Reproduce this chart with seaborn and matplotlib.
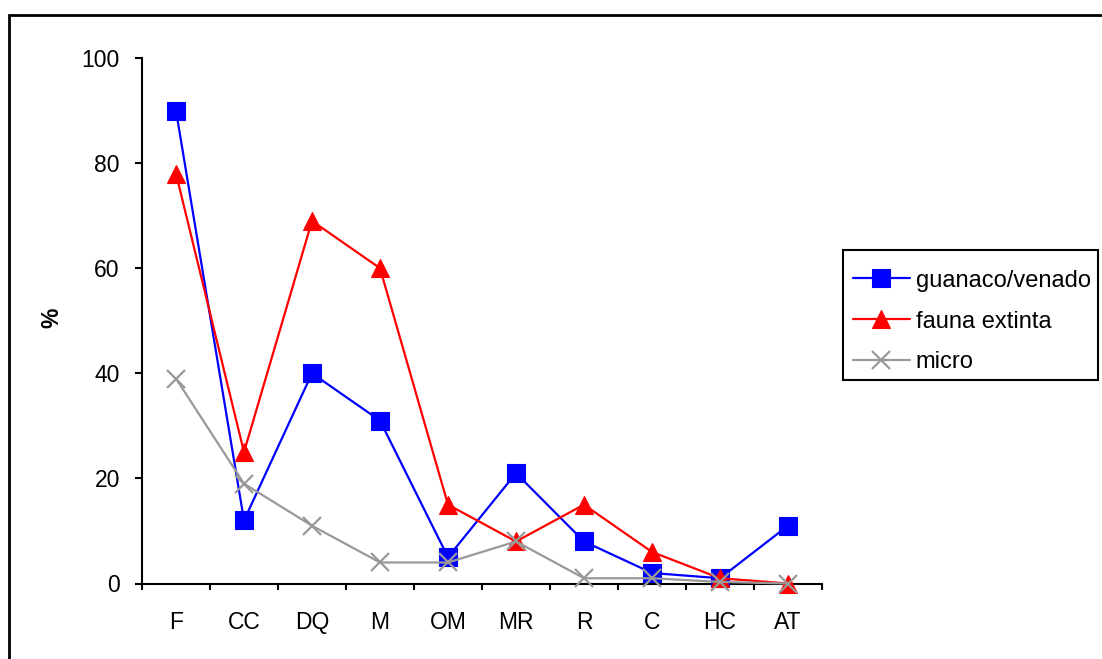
import matplotlib
matplotlib.use("Agg")
import matplotlib.pyplot as plt
from matplotlib.patches import Rectangle
from matplotlib.ticker import FixedLocator
import seaborn as sns
import pandas as pd

# Site categories along the x axis
categories = ["F", "CC", "DQ", "M", "OM", "MR", "R", "C", "HC", "AT"]

# Percentages per faunal group
guanaco_venado = [90, 12, 40, 31, 5, 21, 8, 2, 1, 11]
fauna_extinta = [78, 25, 69, 60, 15, 8, 15, 6, 1, 0]
micro = [39, 19, 11, 4, 4, 8, 1, 1, 0.3, 0]

y_ticks = [0, 20, 40, 60, 80, 100]

sns.set_theme(style="white")
plt.rcParams["font.family"] = ["Liberation Sans", "DejaVu Sans"]

FS = 16.5
LEG_FS = 17

W, H = 1102, 659
fig = plt.figure(figsize=(W / 100, H / 100), dpi=100)
ax = fig.add_axes([142 / W, 1 - 583.5 / H, 680 / W, 525.5 / H])

series = [
    ("guanaco/venado", guanaco_venado, "#0000FF", "s", 12.5),
    ("fauna extinta", fauna_extinta, "#FF0000", "^", 13),
    ("micro", micro, "#999999", "x", 13),
]

for z, (name, vals, col, mk, ms) in enumerate(series):
    df = pd.DataFrame({"cat": categories, "val": vals})
    sns.lineplot(
        data=df, x="cat", y="val", ax=ax, color=col, linewidth=1.6,
        marker=mk, markersize=ms, markeredgecolor=col, markerfacecolor=col,
        markeredgewidth=1.6 if mk == "x" else 0.8,
        label=name, clip_on=False, zorder=3 + z, sort=False,
    )

ax.set_xlim(-0.5, len(categories) - 0.5)
ax.set_ylim(0, 100)
ax.set_yticks(y_ticks)
ax.set_yticklabels([str(v) for v in y_ticks])
ax.set_xticks(range(len(categories)))
ax.set_xticklabels(categories)
ax.xaxis.set_minor_locator(FixedLocator([i - 0.5 for i in range(len(categories) + 1)]))

for s in ["top", "right"]:
    ax.spines[s].set_visible(False)
for s in ["left", "bottom"]:
    ax.spines[s].set_color("black")
    ax.spines[s].set_linewidth(1.5)

ax.tick_params(axis="y", which="major", direction="out", length=5, width=1.5,
               color="black", pad=11, labelsize=FS, labelcolor="black", left=True)
ax.tick_params(axis="x", which="major", length=0, pad=19.5, labelsize=FS,
               labelcolor="black", bottom=True)
ax.tick_params(axis="x", which="minor", direction="out", length=4.5, width=1.5,
               color="black", bottom=True)

ax.set_xlabel("")
ax.set_ylabel("%", fontsize=FS, fontweight="bold", color="black")
ax.yaxis.set_label_coords((63 - 142) / 680, 0.505)
ax.grid(False)

# Legend entries without their own frame; the box is drawn separately
leg = ax.legend(
    loc="center left", bbox_to_anchor=(853 / W, 1 - 321.5 / H),
    bbox_transform=fig.transFigure, borderaxespad=0, borderpad=0,
    fontsize=LEG_FS, frameon=False, handlelength=2.41,
    handletextpad=0.25, labelspacing=0.80,
)
for t in leg.get_texts():
    t.set_color("black")

fig.patches.append(Rectangle((843 / W, 1 - 380 / H), 255 / W, 130 / H,
                             transform=fig.transFigure, fill=False,
                             edgecolor="black", linewidth=1.5, zorder=1))

# Outer chart frame
fig.patches.append(Rectangle((9 / W, -0.1), 1.2, 1 - 15 / H + 0.1,
                             transform=fig.transFigure, fill=False,
                             edgecolor="black", linewidth=2, zorder=0))

fig.savefig("out.png", dpi=100, facecolor="white")
